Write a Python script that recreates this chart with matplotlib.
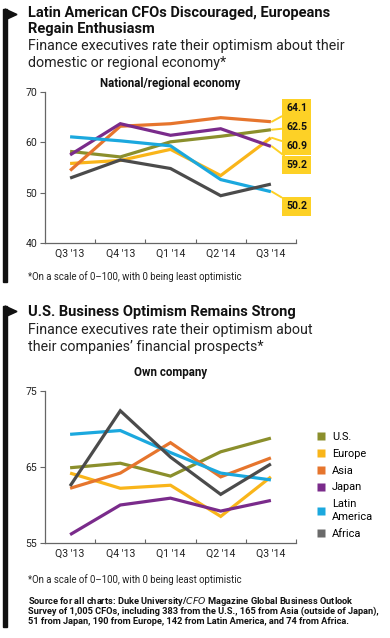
import matplotlib
matplotlib.use("Agg")
import matplotlib.pyplot as plt
from matplotlib.lines import Line2D
from matplotlib.patches import Rectangle, Polygon

plt.rcParams["font.family"] = ["Roboto", "DejaVu Sans"]

W, H = 390, 638

quarters = ["Q3 '13", "Q4 '13", "Q1 '14", "Q2 '14", "Q3 '14"]
regions = ["U.S.", "Europe", "Asia", "Japan", "Latin\nAmerica", "Africa"]
colors = ["#8b8f2c", "#f9b51a", "#e6752d", "#7a2b8b", "#1ba8de", "#4b4b4b"]
legend_colors = ["#8b8f2c", "#f9b51a", "#e6752d", "#7a2b8b", "#1ba8de", "#6a6a6a"]

# national/regional economy
economy = {
    "U.S.": [58.2, 57.1, 60.1, 61.2, 62.5],
    "Europe": [55.8, 56.4, 58.6, 53.4, 60.9],
    "Asia": [54.4, 63.2, 63.7, 64.9, 64.1],
    "Japan": [57.5, 63.7, 61.4, 62.7, 59.2],
    "Latin\nAmerica": [61.1, 60.3, 59.3, 52.6, 50.2],
    "Africa": [52.9, 56.5, 54.8, 49.4, 51.7],
}
labeled = ["Asia", "U.S.", "Europe", "Japan", "Latin\nAmerica"]
label_y = [66.8, 63.0, 59.3, 55.5, 47.3]

# own company
company = {
    "U.S.": [64.9, 65.5, 63.8, 67.0, 68.8],
    "Europe": [64.2, 62.2, 62.6, 58.5, 63.7],
    "Asia": [62.2, 64.2, 68.2, 63.7, 66.2],
    "Japan": [56.1, 60.0, 60.9, 59.2, 60.6],
    "Latin\nAmerica": [69.3, 69.8, 66.9, 64.2, 63.3],
    "Africa": [62.5, 72.4, 66.3, 61.4, 65.4],
}

fig = plt.figure(figsize=(W / 100, H / 100), dpi=100)


def px(x, y):
    return x / W, 1 - y / H


def style_axes(ax, ylim, yticks):
    ax.set_xlim(-0.5, 4.5)
    ax.set_ylim(*ylim)
    for s in ["top", "right"]:
        ax.spines[s].set_visible(False)
    for s in ["left", "bottom"]:
        ax.spines[s].set_color("#666666")
        ax.spines[s].set_linewidth(0.9)
    ax.set_yticks(yticks)
    ax.set_xticks(range(5))
    ax.set_xticklabels(quarters, fontsize=7.6, color="#222222")
    ax.set_xticks([i + 0.5 for i in range(5)], minor=True)
    ax.tick_params(axis="x", which="major", length=0, pad=4)
    ax.tick_params(axis="x", which="minor", direction="in", length=3,
                   color="#666666", width=0.8)
    ax.tick_params(axis="y", length=3.5, color="#666666", width=0.8,
                   labelsize=7.6, labelcolor="#222222", pad=2)


def draw_lines(ax, data):
    for name, color in zip(regions, colors):
        ax.plot(range(5), data[name], color=color, linewidth=2.3,
                solid_capstyle="butt", solid_joinstyle="miter")


# left bars with arrow heads
for y0, y1 in [(9, 282), (306, 627)]:
    fig.patches.append(Rectangle(px(3.5, y1), 3 / W, (y1 - y0) / H,
                                 transform=fig.transFigure, color="#111111"))
    fig.patches.append(Polygon([px(5, y0), px(17, y0 + 5.5), px(5, y0 + 11)],
                               closed=True, transform=fig.transFigure,
                               color="#111111"))

# top section
fig.text(*px(28, 13), "Latin American CFOs Discouraged, Europeans",
         fontsize=10.5, fontweight="bold", va="center", color="#111111")
fig.text(*px(28, 29), "Regain Enthusiasm",
         fontsize=10.5, fontweight="bold", va="center", color="#111111")
fig.text(*px(28, 46), "Finance executives rate their optimism about their",
         fontsize=10.3, va="center", color="#222222")
fig.text(*px(28, 63), "domestic or regional economy*",
         fontsize=10.3, va="center", color="#222222")
fig.text(*px(170, 84), "National/regional economy", fontsize=8.3,
         fontweight="bold", ha="center", va="center", color="#111111")

ax1 = fig.add_axes([45 / W, 1 - 243 / H, 251 / W, 151 / H])
style_axes(ax1, (40, 70), [40, 50, 60, 70])
draw_lines(ax1, economy)
for name, ly in zip(labeled, label_y):
    v = economy[name][-1]
    ax1.annotate(f"{v:.1f}", xy=(4.02, v), xytext=(4.51, ly),
                 fontsize=7.6, fontweight="bold", ha="center", va="center",
                 color="#111111", annotation_clip=False,
                 bbox=dict(boxstyle="square,pad=0.42", fc="#fdd126", ec="none"),
                 arrowprops=dict(arrowstyle="-", color="#fdd126", lw=1.4,
                                 shrinkA=0, shrinkB=0))

fig.text(*px(28, 277), "*On a scale of 0\u2013100, with 0 being least optimistic",
         fontsize=6.9, va="center", color="#222222")

# bottom section
fig.text(*px(28, 312), "U.S. Business Optimism Remains Strong",
         fontsize=10.5, fontweight="bold", va="center", color="#111111")
fig.text(*px(28, 330), "Finance executives rate their optimism about",
         fontsize=10.3, va="center", color="#222222")
fig.text(*px(28, 347), "their companies\u2019 financial prospects*",
         fontsize=10.3, va="center", color="#222222")
fig.text(*px(171, 372), "Own company", fontsize=8.3,
         fontweight="bold", ha="center", va="center", color="#111111")

ax2 = fig.add_axes([45 / W, 1 - 543 / H, 251 / W, 152 / H])
style_axes(ax2, (55, 75), [55, 65, 75])
draw_lines(ax2, company)

handles = [Line2D([], [], marker="s", linestyle="none", markersize=6,
                  markerfacecolor=c, markeredgecolor="none")
           for c in legend_colors]
leg = fig.legend(handles, regions, loc="upper left",
                 bbox_to_anchor=px(317, 432), frameon=False, fontsize=7.9,
                 handlelength=0.8, handletextpad=0.55, labelspacing=0.62,
                 borderpad=0, borderaxespad=0)
for t in leg.get_texts():
    t.set_linespacing(1.35)

fig.text(*px(28, 580), "*On a scale of 0\u2013100, with 0 being least optimistic",
         fontsize=6.9, va="center", color="#222222")
src = [
    "Source for all charts: Duke University/$\\it{CFO}$ Magazine Global Business Outlook",
    "Survey of 1,005 CFOs, including 383 from the U.S., 165 from Asia (outside of Japan),",
    "51 from Japan, 190 from Europe, 142 from Latin America, and 74 from Africa.",
]
for i, line in enumerate(src):
    fig.text(*px(28, 601 + i * 10.5), line, fontsize=6.7, fontweight="bold",
             va="center", color="#111111")

fig.savefig("out.png", dpi=100)
